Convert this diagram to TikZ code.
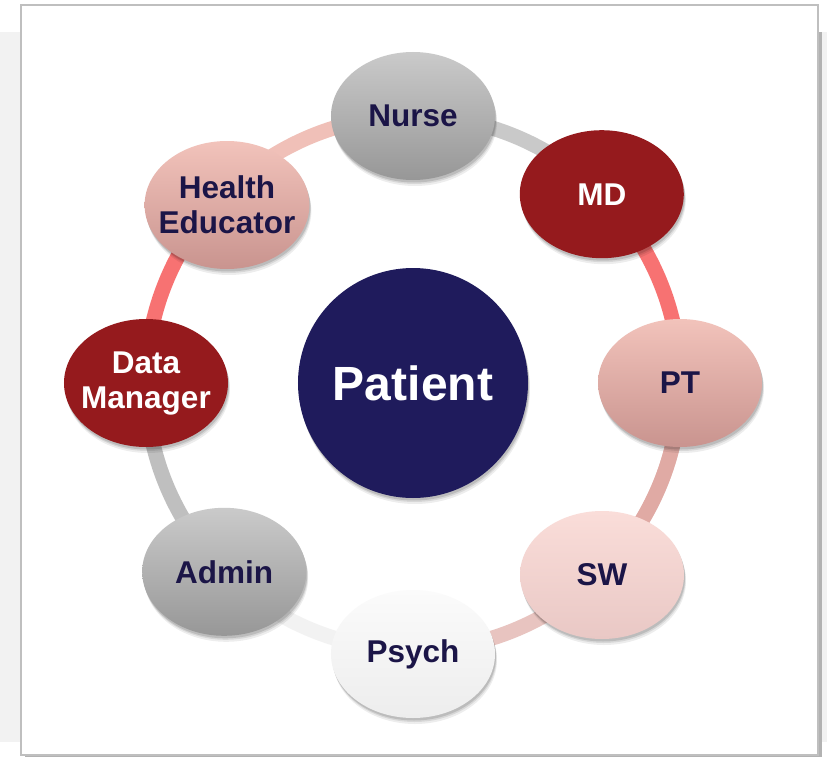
\documentclass[tikz,border=0pt]{standalone}
\usepackage{fontspec}
\newfontfamily\arialfont{Liberation Sans}
\usepackage{xcolor}
\usepackage{tikz}
\usetikzlibrary{shapes.geometric, backgrounds, positioning}
\pgfdeclarelayer{frame}
\pgfsetlayers{frame,background,main}
\definecolor{navytext}{HTML}{1B1547}
\definecolor{patientblue}{HTML}{1F1B5C}
\definecolor{mdred}{HTML}{951A1D}
\definecolor{greytop}{HTML}{CACACA}
\definecolor{greybot}{HTML}{979797}
\definecolor{pinktop}{HTML}{F2C3BB}
\definecolor{pinkbot}{HTML}{C9948F}
\definecolor{lpinktop}{HTML}{FADDD9}
\definecolor{lpinkbot}{HTML}{E9C8C5}
\definecolor{whitetop}{HTML}{FBFBFB}
\definecolor{whitebot}{HTML}{EDEDED}
\definecolor{ringred}{HTML}{F77272}
\definecolor{ringrose}{HTML}{E0AAA4}
\definecolor{ringlight}{HTML}{E8C4C0}
\definecolor{ringpink}{HTML}{F0C0B8}
\tikzset{
  % Ombra morbida
  soft shadow/.style={
    preaction={fill=black, opacity=.07, transform canvas={xshift=2pt, yshift=-6pt}},
    preaction={fill=black, opacity=.09, transform canvas={xshift=1.5pt, yshift=-4pt}},
    preaction={fill=black, opacity=.12, transform canvas={xshift=1pt, yshift=-2.5pt}}},
  % Nodi del team
  member/.style={ellipse, minimum width=164, minimum height=128, inner sep=0,
    align=center, text=navytext, soft shadow,
    font=\arialfont\fontsize{31.5}{35}\selectfont\bfseries},
  member two/.style={inner xsep=-10pt},
  member grey/.style={member, shading=axis, top color=greytop, bottom color=greybot},
  member red/.style={member, fill=mdred, text=white},
  member pink/.style={member, shading=axis, top color=pinktop, bottom color=pinkbot},
  member light/.style={member, shading=axis, top color=lpinktop, bottom color=lpinkbot},
  member white/.style={member, shading=axis, top color=whitetop, bottom color=whitebot},
  % Anello
  ring/.style={line width=15, draw=#1,
    preaction={draw=black, opacity=.12, transform canvas={xshift=1.5pt, yshift=-3pt}}}
}

\begin{document}
\begin{tikzpicture}[x=1pt, y=1pt]
    \useasboundingbox (-413,383) rectangle (414,-373);
    \begin{pgfonlayer}{frame}
      \fill[black!5] (-413,351) rectangle (414,-359);
      \fill[black!30] (-388,351) rectangle (409,-376);
      \draw[black!25, line width=1.5, fill=white] (-392,378) rectangle (405,-372);
    \end{pgfonlayer}

    \node[circle, minimum size=230, inner sep=0, fill=patientblue, text=white, soft shadow,
      font=\arialfont\fontsize{48}{52}\selectfont\bfseries] (patient) at (0,0) {Patient};

    \node[member grey] (nurse) at (90:267) {Nurse};
    \node[member red] (md) at (45:267) {MD};
    \node[member pink] (pt) at (0:267) {PT};
    \node[member light] (sw) at (189,-192) {SW};
    \node[member white] (psych) at (0,-271) {Psych};
    \node[member grey] (admin) at (-135:267) {Admin};
    \node[member red, member two] (dm) at (180:267) {Data\\Manager};
    \node[member pink, member two] (he) at (-186,178) {Health\\Educator};

    \begin{scope}[on background layer]
      \draw[ring=black!21] (nurse.center) arc[start angle=90, end angle=45, radius=267];
      \draw[ring=ringred] (md.center) arc[start angle=45, end angle=0, radius=267];
      \draw[ring=ringlight] (pt.center) arc[start angle=0, end angle=-90, radius=267];
      \draw[ring=ringrose] (pt.center) arc[start angle=0, end angle=-45, radius=267];
      \draw[ring=black!5] (admin.center) arc[start angle=-135, end angle=-90, radius=267];
      \draw[ring=black!25] (admin.center) arc[start angle=-135, end angle=-180, radius=267];
      \draw[ring=ringred] (dm.center) arc[start angle=180, end angle=135, radius=267];
      \draw[ring=ringpink] (nurse.center) arc[start angle=90, end angle=135, radius=267];
    \end{scope}
  \end{tikzpicture}
\end{document}
